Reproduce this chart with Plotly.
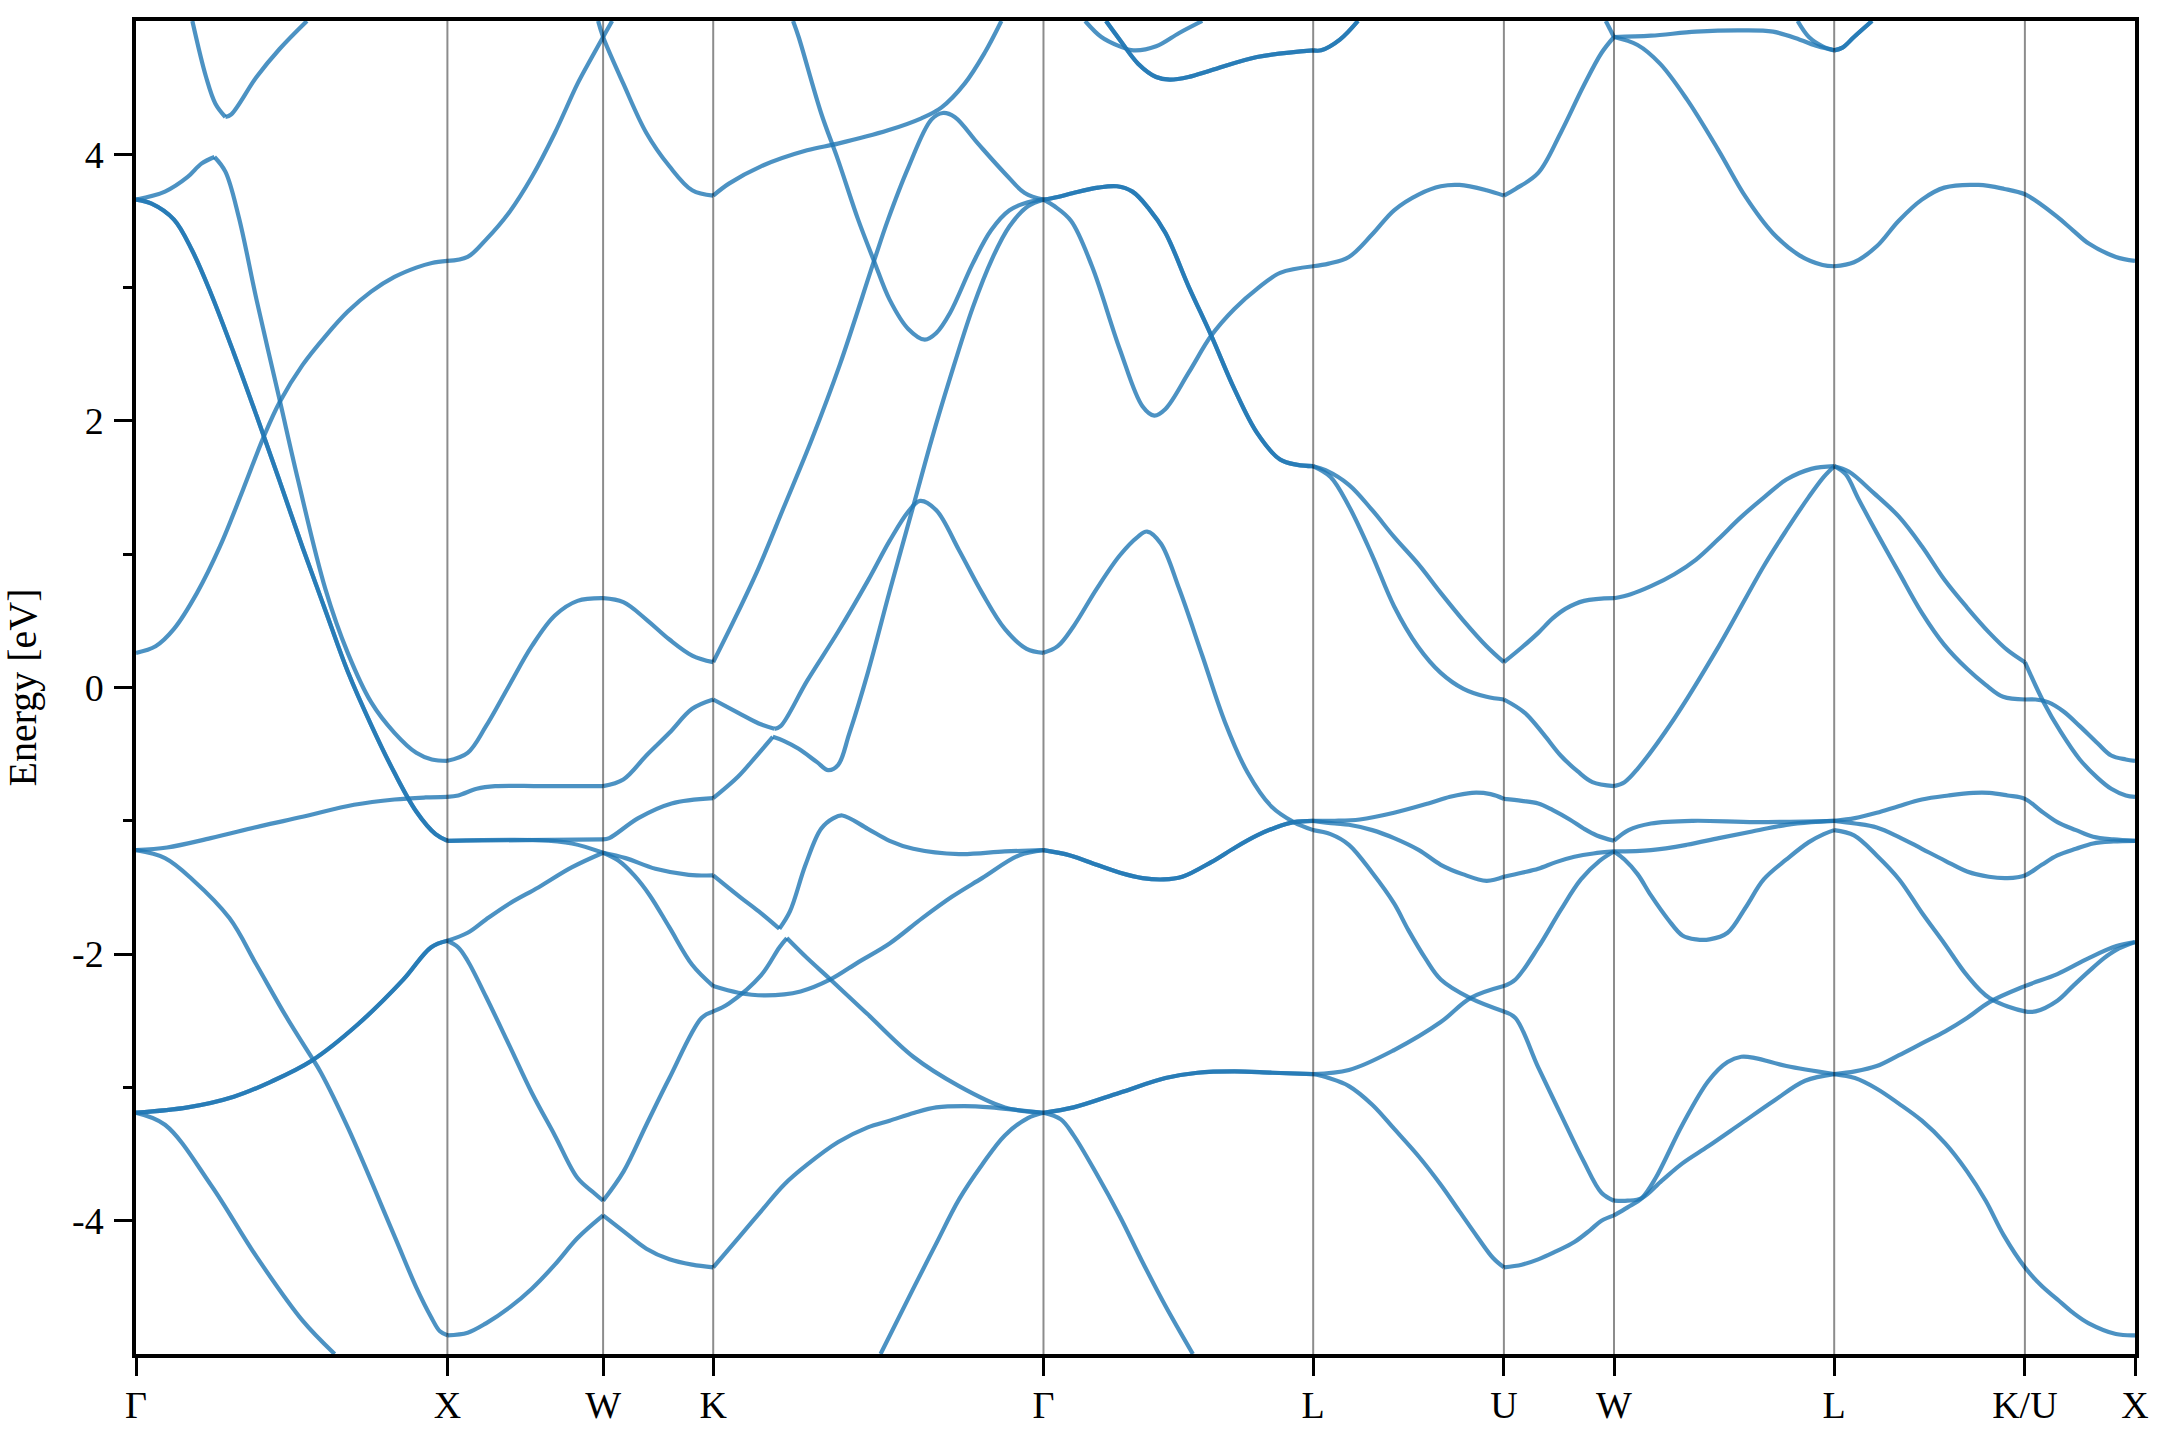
import plotly.graph_objects as go

# ---------------- axis / label data ----------------
KPOINT_POS = [0.0, 1.0, 1.5, 1.8536, 2.9142, 3.7803, 4.3927, 4.7463, 5.4534, 6.0658, 6.4194]
KPOINT_LABELS = ["Γ", "X", "W", "K", "Γ", "L", "U", "W", "L", "K/U", "X"]
YTICK_VALS = [-4, -2, 0, 2, 4]
YTICK_TEXT = ["-4", "-2", "0", "2", "4"]
YMINOR_VALS = [-3, -1, 1, 3]
E_RANGE = [-5, 5]
Y_TITLE = "Energy [eV]"

# ---------------- band data: (k, E) per curve ----------------
BANDS_G_X = [
    ([0, 0.093, 0.166, 0.21, 0.252], [3.66, 3.72, 3.83, 3.93, 3.98]),
    ([0.252, 0.287, 0.33, 0.387, 0.461, 0.52, 0.608, 0.68, 0.755, 0.83, 0.9, 0.95, 1.0],
     [3.98, 3.87, 3.53, 2.91, 2.16, 1.56, 0.74, 0.26, -0.11, -0.34, -0.49, -0.54, -0.55]),
    ([0, 0.063, 0.122, 0.196, 0.27, 0.343, 0.41, 0.461, 0.535, 0.61, 0.68, 0.755, 0.83, 0.9, 0.95, 1.0],
     [0.26, 0.31, 0.44, 0.71, 1.06, 1.48, 1.88, 2.14, 2.42, 2.64, 2.82, 2.97, 3.08, 3.15, 3.185, 3.2]),
    ([0.181, 0.225, 0.255, 0.287], [5.0, 4.58, 4.38, 4.28]),
    ([0.287, 0.306, 0.387, 0.461, 0.549], [4.28, 4.30, 4.58, 4.79, 5.0]),
    ([0, 0.1, 0.24, 0.4, 0.535, 0.7, 0.83, 0.93, 1.0],
     [-1.22, -1.20, -1.13, -1.04, -0.97, -0.88, -0.84, -0.825, -0.82]),
    ([0, 0.093, 0.181, 0.3, 0.387, 0.48, 0.571], [-1.22, -1.28, -1.44, -1.73, -2.08, -2.46, -2.80]),
    ([0.571, 0.594, 0.682, 0.829, 0.9, 0.947, 0.976, 1.0],
     [-2.80, -2.89, -3.31, -4.11, -4.50, -4.72, -4.83, -4.86]),
    ([0, 0.093, 0.24, 0.387, 0.535, 0.638], [-3.19, -3.28, -3.73, -4.27, -4.75, -5.0]),
]

BANDS_X_W = [
    ([1.0, 1.065, 1.124, 1.197, 1.271, 1.345, 1.418, 1.462, 1.5, 1.529],
     [3.2, 3.23, 3.36, 3.56, 3.83, 4.16, 4.53, 4.72, 4.88, 5.0]),
    ([1.0, 1.065, 1.124, 1.197, 1.271, 1.345, 1.418, 1.5], [-0.55, -0.49, -0.29, 0.01, 0.31, 0.54, 0.65, 0.67]),
    ([1.0, 1.035, 1.094, 1.153, 1.3, 1.5], [-0.82, -0.81, -0.76, -0.74, -0.74, -0.74]),
    ([1.0, 1.25, 1.5], [-1.15, -1.145, -1.14]),
    ([1.0, 1.29, 1.40, 1.5], [-1.15, -1.145, -1.17, -1.24]),
    ([1.0, 1.065, 1.124, 1.2, 1.292, 1.399, 1.5], [-1.90, -1.84, -1.74, -1.62, -1.50, -1.35, -1.24]),
    ([1.0, 1.035, 1.065, 1.124, 1.2, 1.271, 1.345, 1.418, 1.47, 1.5],
     [-1.90, -1.95, -2.05, -2.32, -2.69, -3.04, -3.36, -3.68, -3.79, -3.85]),
    ([1.0, 1.065, 1.124, 1.2, 1.271, 1.345, 1.418, 1.5], [-4.86, -4.84, -4.77, -4.65, -4.51, -4.33, -4.13, -3.96]),
]

BANDS_W_K = [
    ([1.484, 1.5, 1.565, 1.639, 1.713, 1.786, 1.8536], [5.0, 4.88, 4.53, 4.16, 3.91, 3.73, 3.69]),
    ([1.5, 1.565, 1.639, 1.713, 1.786, 1.8536], [0.67, 0.64, 0.51, 0.36, 0.24, 0.19]),
    ([1.5, 1.565, 1.639, 1.713, 1.786, 1.8536], [-0.74, -0.69, -0.51, -0.34, -0.16, -0.09]),
    ([1.5, 1.52, 1.613, 1.72, 1.8536], [-1.14, -1.13, -0.98, -0.87, -0.83]),
    ([1.5, 1.572, 1.668, 1.775, 1.8536], [-1.24, -1.28, -1.36, -1.405, -1.41]),
    ([1.5, 1.55, 1.6, 1.65, 1.713, 1.786, 1.8536], [-1.24, -1.30, -1.41, -1.56, -1.80, -2.08, -2.24]),
    ([1.5, 1.566, 1.639, 1.713, 1.816, 1.8536], [-3.85, -3.63, -3.28, -2.93, -2.48, -2.43]),
    ([1.5, 1.566, 1.639, 1.713, 1.786, 1.8536], [-3.96, -4.08, -4.21, -4.29, -4.33, -4.35]),
]

BANDS_K_G = [
    ([1.8536, 1.904, 2.007, 2.155, 2.254, 2.415, 2.522, 2.586, 2.661, 2.725, 2.779],
     [3.69, 3.78, 3.91, 4.03, 4.08, 4.18, 4.27, 4.35, 4.53, 4.76, 5.0]),
    ([2.11, 2.128, 2.2, 2.254, 2.319, 2.37, 2.42, 2.48, 2.533, 2.57, 2.614, 2.687, 2.746, 2.805, 2.864, 2.9142],
     [5.0, 4.88, 4.31, 3.96, 3.51, 3.20, 2.91, 2.69, 2.61, 2.66, 2.81, 3.18, 3.43, 3.58, 3.64, 3.66]),
    ([1.8536, 1.93, 2.0, 2.08, 2.17, 2.26, 2.37, 2.415, 2.48, 2.554, 2.591, 2.629, 2.704, 2.789, 2.854, 2.9142],
     [0.19, 0.55, 0.90, 1.35, 1.86, 2.42, 3.20, 3.51, 3.90, 4.26, 4.31, 4.28, 4.08, 3.86, 3.71, 3.66]),
    ([1.8536, 1.934, 2.0, 2.05], [-0.09, -0.19, -0.27, -0.31]),
    ([2.05, 2.07, 2.155, 2.255, 2.35, 2.42, 2.48, 2.518, 2.57, 2.643, 2.717, 2.79, 2.86, 2.9142],
     [-0.31, -0.29, 0.05, 0.42, 0.80, 1.10, 1.32, 1.40, 1.33, 1.03, 0.71, 0.44, 0.29, 0.26]),
    ([1.8536, 1.933, 1.99, 2.045], [-0.83, -0.67, -0.52, -0.37]),
    ([2.045, 2.08, 2.128, 2.187, 2.223, 2.255, 2.29, 2.35, 2.42, 2.496, 2.555, 2.614, 2.687, 2.75, 2.805, 2.864, 2.9142],
     [-0.37, -0.40, -0.46, -0.56, -0.62, -0.58, -0.35, 0.11, 0.72, 1.36, 1.86, 2.32, 2.85, 3.22, 3.46, 3.61, 3.66]),
    ([1.8536, 1.933, 2.0, 2.066], [-1.41, -1.56, -1.68, -1.81]),
    ([2.066, 2.10, 2.15, 2.20, 2.24, 2.268, 2.35, 2.42, 2.496, 2.643, 2.79, 2.9142],
     [-1.81, -1.68, -1.33, -1.06, -0.98, -0.96, -1.06, -1.15, -1.21, -1.25, -1.23, -1.22]),
    ([1.8536, 1.904, 2.007, 2.066, 2.09], [-2.43, -2.37, -2.16, -1.95, -1.88]),
    ([2.09, 2.155, 2.23, 2.349, 2.496, 2.643, 2.79, 2.9142], [-1.88, -2.03, -2.19, -2.45, -2.77, -2.99, -3.15, -3.19]),
    ([1.8536, 1.934, 2.022, 2.134, 2.23, 2.32, 2.42, 2.525, 2.62, 2.717, 2.835, 2.9142],
     [-2.24, -2.29, -2.31, -2.28, -2.19, -2.06, -1.92, -1.73, -1.57, -1.43, -1.26, -1.22]),
    ([1.8536, 1.934, 2.007, 2.081, 2.155, 2.255, 2.35, 2.42, 2.5, 2.57, 2.66, 2.746, 2.83, 2.9142],
     [-4.35, -4.13, -3.93, -3.73, -3.58, -3.41, -3.30, -3.25, -3.19, -3.15, -3.14, -3.15, -3.17, -3.19]),
    ([2.391, 2.496, 2.57, 2.643, 2.717, 2.79, 2.864, 2.9142], [-5.0, -4.51, -4.17, -3.84, -3.58, -3.36, -3.23, -3.19]),
]

BANDS_G_L = [
    ([2.9142, 2.95, 3.003, 3.07, 3.159, 3.232, 3.27, 3.306, 3.38, 3.453, 3.527, 3.60, 3.674, 3.7803],
     [3.66, 3.61, 3.50, 3.16, 2.54, 2.11, 2.04, 2.09, 2.36, 2.64, 2.84, 2.99, 3.11, 3.16]),
    ([3.048, 3.10, 3.159, 3.203, 3.276, 3.35, 3.424], [5.0, 4.88, 4.81, 4.78, 4.81, 4.91, 5.0]),
    ([2.9142, 2.96, 3.011, 3.085, 3.159, 3.217, 3.247, 3.291, 3.35, 3.424, 3.497, 3.57, 3.645, 3.718, 3.7803],
     [0.26, 0.31, 0.46, 0.74, 0.99, 1.13, 1.17, 1.08, 0.74, 0.24, -0.26, -0.64, -0.89, -1.01, -1.07]),
    ([2.9142, 2.97, 3.011, 3.085, 3.16, 3.23, 3.306, 3.394], [-3.19, -3.24, -3.36, -3.65, -3.97, -4.30, -4.64, -5.0]),
]

BANDS_L_U = [
    ([3.7803, 3.83, 3.895, 3.97, 4.04, 4.12, 4.19, 4.25, 4.337, 4.3927],
     [3.16, 3.18, 3.23, 3.40, 3.58, 3.70, 3.76, 3.77, 3.73, 3.69]),
    ([3.7803, 3.82, 3.895, 3.97, 4.04, 4.12, 4.19, 4.26, 4.337, 4.3927],
     [1.66, 1.63, 1.52, 1.33, 1.13, 0.92, 0.71, 0.51, 0.31, 0.19]),
    ([3.7803, 3.836, 3.895, 3.97, 4.04, 4.116, 4.19, 4.263, 4.337, 4.3927],
     [1.66, 1.58, 1.36, 0.99, 0.61, 0.31, 0.11, -0.01, -0.07, -0.09]),
    ([3.7803, 3.85, 3.93, 4.04, 4.15, 4.22, 4.29, 4.35, 4.3927],
     [-1.0, -1.0, -0.99, -0.94, -0.87, -0.82, -0.79, -0.80, -0.835]),
    ([3.7803, 3.85, 3.895, 3.97, 4.04, 4.12, 4.19, 4.26, 4.337, 4.3927],
     [-1.0, -1.02, -1.03, -1.07, -1.13, -1.22, -1.33, -1.40, -1.45, -1.42]),
    ([3.7803, 3.836, 3.895, 3.97, 4.04, 4.086, 4.14, 4.19, 4.285, 4.3927],
     [-1.07, -1.10, -1.18, -1.39, -1.62, -1.82, -2.03, -2.19, -2.33, -2.43]),
    ([3.7803, 3.895, 4.04, 4.19, 4.285, 4.3927], [-2.90, -2.87, -2.72, -2.51, -2.33, -2.24]),
    ([3.7803, 3.83, 3.895, 3.97, 4.04, 4.12, 4.19, 4.25, 4.307, 4.358, 4.3927],
     [-2.90, -2.93, -2.99, -3.13, -3.31, -3.52, -3.73, -3.93, -4.12, -4.28, -4.35]),
]

BANDS_U_W = [
    ([4.3927, 4.43, 4.503, 4.575, 4.648, 4.706, 4.7463], [3.69, 3.74, 3.86, 4.16, 4.51, 4.76, 4.88]),
    ([4.72, 4.7463], [5.0, 4.88]),
    ([4.3927, 4.45, 4.503, 4.55, 4.59, 4.65, 4.7463], [0.19, 0.30, 0.41, 0.52, 0.59, 0.65, 0.67]),
    ([4.3927, 4.46, 4.52, 4.575, 4.63, 4.677, 4.7463], [-0.09, -0.19, -0.35, -0.51, -0.63, -0.71, -0.74]),
    ([4.3927, 4.45, 4.503, 4.55, 4.604, 4.65, 4.691, 4.7463], [-0.835, -0.85, -0.87, -0.92, -0.99, -1.06, -1.11, -1.15]),
    ([4.3927, 4.45, 4.503, 4.56, 4.619, 4.68, 4.7463], [-1.42, -1.39, -1.36, -1.31, -1.27, -1.245, -1.23]),
    ([4.3927, 4.43, 4.503, 4.575, 4.64, 4.70, 4.7463], [-2.24, -2.19, -1.95, -1.67, -1.44, -1.30, -1.23]),
    ([4.3927, 4.43, 4.503, 4.575, 4.648, 4.706, 4.7463], [-2.43, -2.48, -2.85, -3.2, -3.55, -3.79, -3.85]),
    ([4.3927, 4.45, 4.503, 4.56, 4.619, 4.67, 4.706, 4.7463], [-4.35, -4.33, -4.29, -4.23, -4.16, -4.07, -4.0, -3.96]),
]

BANDS_W_L = [
    ([4.7463, 4.865, 5.01, 5.155, 5.257, 5.343, 5.401, 5.4534], [4.88, 4.89, 4.92, 4.93, 4.92, 4.86, 4.81, 4.78]),
    ([4.7463, 4.822, 4.894, 4.981, 5.082, 5.169, 5.256, 5.343, 5.416, 5.4534],
     [4.88, 4.82, 4.68, 4.41, 4.03, 3.68, 3.41, 3.24, 3.17, 3.16]),
    ([5.336, 5.372, 5.416, 5.4534], [5.0, 4.88, 4.81, 4.78]),
    ([4.7463, 4.8, 4.865, 4.94, 5.01, 5.08, 5.155, 5.23, 5.30, 5.38, 5.4534],
     [0.67, 0.70, 0.76, 0.85, 0.96, 1.11, 1.28, 1.43, 1.56, 1.64, 1.66]),
    ([4.7463, 4.78, 4.822, 4.938, 5.083, 5.227, 5.30, 5.372, 5.42, 5.4534],
     [-0.74, -0.71, -0.61, -0.24, 0.31, 0.91, 1.18, 1.43, 1.58, 1.66]),
    ([4.7463, 4.793, 4.865, 5.0, 5.2, 5.4534], [-1.15, -1.07, -1.02, -1.0, -1.01, -1.0]),
    ([4.7463, 4.865, 4.98, 5.083, 5.19, 5.30, 5.38, 5.4534], [-1.23, -1.22, -1.18, -1.13, -1.08, -1.03, -1.01, -1.0]),
    ([4.7463, 4.78, 4.822, 4.865, 4.92, 4.966, 5.01, 5.053, 5.111, 5.169, 5.227, 5.30, 5.372, 5.42, 5.4534],
     [-1.23, -1.29, -1.40, -1.56, -1.74, -1.86, -1.89, -1.89, -1.84, -1.65, -1.44, -1.29, -1.16, -1.10, -1.07]),
    ([4.7463, 4.79, 4.836, 4.88, 4.966, 5.05, 5.111, 5.155, 5.2, 5.3, 5.4534],
     [-3.96, -3.90, -3.83, -3.68, -3.28, -2.95, -2.81, -2.77, -2.78, -2.84, -2.90]),
    ([4.7463, 4.79, 4.836, 4.90, 4.966, 5.05, 5.155, 5.26, 5.36, 5.4534],
     [-3.85, -3.85, -3.83, -3.70, -3.57, -3.44, -3.27, -3.10, -2.95, -2.90]),
]

BANDS_L_KU_X = [
    ([5.4534, 5.517, 5.59, 5.66, 5.735, 5.807, 5.917, 6.0, 6.0658, 6.12, 6.17, 6.22, 6.271, 6.358, 6.4194],
     [3.16, 3.19, 3.31, 3.50, 3.66, 3.75, 3.77, 3.74, 3.70, 3.62, 3.53, 3.43, 3.33, 3.23, 3.20]),
    ([5.4534, 5.50, 5.58, 5.662, 5.735, 5.807, 5.88, 5.952, 6.01, 6.0658],
     [1.66, 1.62, 1.46, 1.28, 1.06, 0.81, 0.60, 0.41, 0.28, 0.19]),
    ([6.0658, 6.126, 6.18, 6.242, 6.30, 6.343, 6.39, 6.4194], [0.19, -0.11, -0.33, -0.54, -0.68, -0.76, -0.81, -0.82]),
    ([5.4534, 5.49, 5.53, 5.59, 5.662, 5.735, 5.807, 5.88, 5.94, 5.996, 6.0658],
     [1.66, 1.60, 1.42, 1.16, 0.86, 0.56, 0.32, 0.14, 0.02, -0.07, -0.09]),
    ([6.0658, 6.10, 6.14, 6.19, 6.242, 6.30, 6.343, 6.39, 6.4194],
     [-0.09, -0.09, -0.11, -0.18, -0.29, -0.42, -0.51, -0.54, -0.55]),
    ([5.4534, 5.52, 5.59, 5.66, 5.735, 5.82, 5.90, 5.952, 6.01, 6.0658, 6.12, 6.17, 6.23, 6.285, 6.35, 6.4194],
     [-1.0, -0.98, -0.94, -0.89, -0.84, -0.81, -0.79, -0.79, -0.81, -0.835, -0.93, -1.01, -1.07, -1.12, -1.14, -1.15]),
    ([5.4534, 5.52, 5.59, 5.66, 5.735, 5.81, 5.88, 5.95, 6.01, 6.0658, 6.12, 6.17, 6.23, 6.285, 6.35, 6.4194],
     [-1.0, -1.02, -1.05, -1.12, -1.21, -1.30, -1.38, -1.42, -1.43, -1.41, -1.33, -1.26, -1.21, -1.17, -1.155, -1.15]),
    ([5.4534, 5.517, 5.59, 5.662, 5.735, 5.807, 5.88, 5.952, 6.0658, 6.10, 6.17, 6.22, 6.271, 6.32, 6.358, 6.4194],
     [-1.07, -1.11, -1.26, -1.44, -1.69, -1.92, -2.16, -2.33, -2.43, -2.43, -2.35, -2.24, -2.13, -2.03, -1.97, -1.91]),
    ([5.4534, 5.52, 5.59, 5.66, 5.735, 5.81, 5.88, 5.952, 6.0658, 6.17, 6.271, 6.36, 6.4194],
     [-2.90, -2.88, -2.84, -2.76, -2.67, -2.58, -2.48, -2.36, -2.24, -2.15, -2.03, -1.94, -1.91]),
    ([5.4534, 5.52, 5.59, 5.66, 5.735, 5.81, 5.88, 5.94, 5.998, 6.0658, 6.12, 6.17, 6.22, 6.271, 6.358, 6.4194],
     [-2.90, -2.93, -3.01, -3.12, -3.25, -3.42, -3.63, -3.85, -4.11, -4.35, -4.49, -4.59, -4.69, -4.77, -4.85, -4.86]),
]

# two-fold degenerate curves (two bands drawn on top of each other)
BANDS_DOUBLE = [
    ([0, 0.05, 0.122, 0.18, 0.24, 0.314, 0.387, 0.461, 0.535, 0.608, 0.68, 0.755, 0.83, 0.9, 0.962, 1.0],
     [3.66, 3.63, 3.51, 3.28, 2.96, 2.51, 2.04, 1.55, 1.05, 0.58, 0.12, -0.28, -0.64, -0.93, -1.10, -1.15]),
    ([0, 0.166, 0.314, 0.431, 0.564, 0.711, 0.859, 0.947, 1.0],
     [-3.19, -3.15, -3.07, -2.96, -2.80, -2.53, -2.19, -1.95, -1.90]),
    ([2.9142, 2.96, 3.01, 3.09, 3.15, 3.2, 3.25, 3.306, 3.38, 3.453, 3.527, 3.60, 3.674, 3.73, 3.7803],
     [3.66, 3.68, 3.71, 3.75, 3.76, 3.72, 3.60, 3.41, 3.01, 2.64, 2.24, 1.91, 1.71, 1.67, 1.66]),
    ([3.115, 3.159, 3.218, 3.276, 3.32, 3.38, 3.453, 3.6, 3.7803],
     [5.0, 4.86, 4.68, 4.58, 4.56, 4.58, 4.63, 4.73, 4.78]),
    ([3.7803, 3.806, 3.866, 3.924], [4.78, 4.78, 4.86, 5.0]),
    ([2.9142, 3.0, 3.085, 3.16, 3.232, 3.30, 3.36, 3.453, 3.53, 3.60, 3.66, 3.718, 3.7803],
     [-1.22, -1.26, -1.33, -1.39, -1.43, -1.44, -1.42, -1.31, -1.20, -1.11, -1.05, -1.01, -1.0]),
    ([2.9142, 3.011, 3.159, 3.306, 3.409, 3.527, 3.65, 3.7803],
     [-3.19, -3.15, -3.04, -2.93, -2.89, -2.88, -2.89, -2.90]),
    ([5.4534, 5.48, 5.517, 5.575], [4.78, 4.80, 4.88, 5.0]),
]

# ---------------- styles ----------------
BAND_COLOR = "rgba(31,119,180,0.8)"
FONT = "Liberation Serif, Times New Roman, serif"

fig = go.Figure()


def add_curve(k, e):
    fig.add_trace(go.Scatter(
        x=k, y=e, mode="lines",
        line=dict(color=BAND_COLOR, width=4.2, shape="spline", smoothing=1.0),
        hoverinfo="skip", showlegend=False,
    ))


for group in (BANDS_G_X, BANDS_X_W, BANDS_W_K, BANDS_K_G, BANDS_G_L,
              BANDS_L_U, BANDS_U_W, BANDS_W_L, BANDS_L_KU_X):
    for k, e in group:
        add_curve(k, e)
for k, e in BANDS_DOUBLE:
    add_curve(k, e)
    add_curve(k, e)

# vertical lines at high-symmetry points
for kp in KPOINT_POS[1:-1]:
    fig.add_shape(type="line", xref="x", yref="paper", x0=kp, x1=kp, y0=0, y1=1,
                  line=dict(color="rgba(0,0,0,0.45)", width=2), layer="above")

fig.update_layout(
    width=2160, height=1440,
    margin=dict(l=136, r=25, t=21, b=86, autoexpand=False),
    paper_bgcolor="white", plot_bgcolor="white",
    font=dict(family=FONT, size=38, color="black"),
    xaxis=dict(
        range=[KPOINT_POS[0], KPOINT_POS[-1]],
        tickmode="array", tickvals=KPOINT_POS, ticktext=KPOINT_LABELS,
        ticks="outside", ticklen=18, tickwidth=3, tickcolor="black",
        showline=True, linewidth=3.5, linecolor="black", mirror=True,
        showgrid=False, zeroline=False, automargin=False,
        tickfont=dict(family=FONT, size=38, color="black"),
        ticklabelstandoff=-3,
    ),
    yaxis=dict(
        range=E_RANGE,
        tickmode="array", tickvals=YTICK_VALS, ticktext=YTICK_TEXT,
        ticks="outside", ticklen=18, tickwidth=3, tickcolor="black",
        minor=dict(tickvals=YMINOR_VALS, ticks="outside", ticklen=9, tickwidth=3, tickcolor="black"),
        showline=True, linewidth=3.5, linecolor="black", mirror=True,
        showgrid=False, zeroline=False, automargin=False,
        tickfont=dict(family=FONT, size=38, color="black"),
        ticklabelstandoff=3,
        title=dict(text=Y_TITLE, font=dict(family=FONT, size=40, color="black"), standoff=36),
    ),
)

fig.write_html("out.html", config={"displayModeBar": False},
               post_script="document.body.style.margin='0';document.body.style.overflow='hidden';")
